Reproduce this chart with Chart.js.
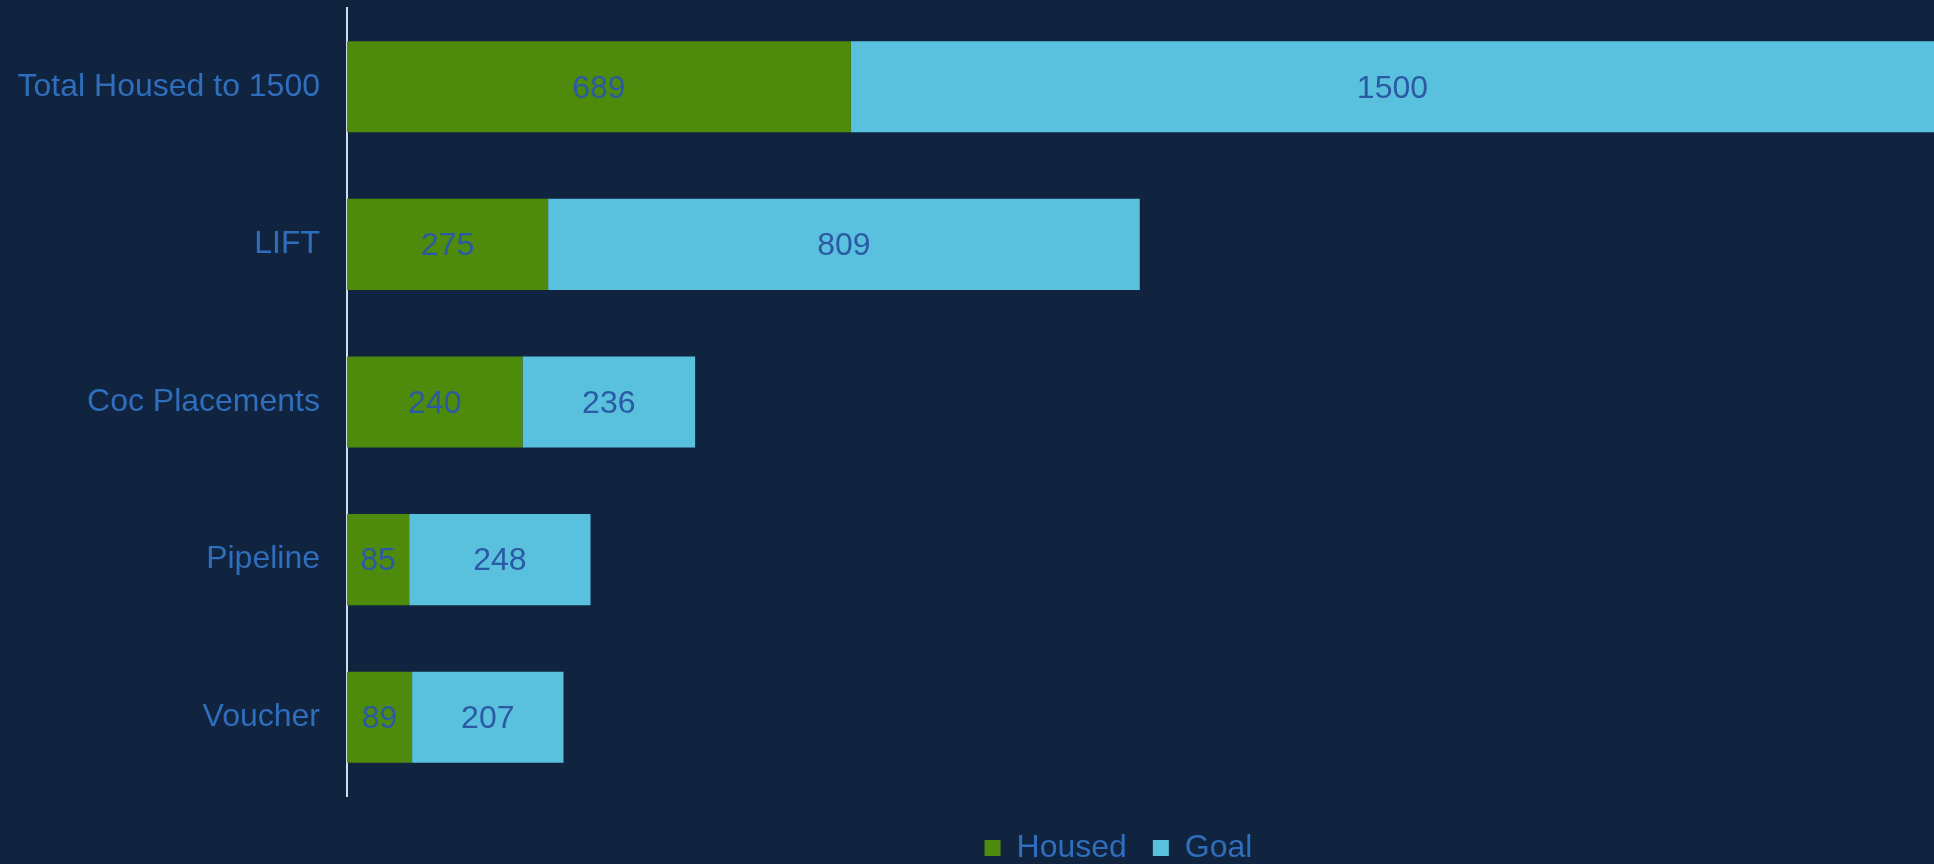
<!DOCTYPE html>
<html>
<head>
<meta charset="utf-8">
<script src="https://cdn.jsdelivr.net/npm/chart.js@4/dist/chart.umd.min.js"></script>
<style>
  html, body { margin: 0; padding: 0; background: #10243f; }
  #wrap { width: 1934px; height: 864px; }
</style>
</head>
<body>
<div id="wrap"><canvas id="grafico" width="1934" height="864"></canvas></div>
<script>
var categorias = ["Total Housed to 1500", "LIFT", "Coc Placements", "Pipeline", "Voucher"];
var housed = [689, 275, 240, 85, 89];
var goal = [1500, 809, 236, 248, 207];

var corTexto = "#2f6dbd";
var corValor = "#2b5aa4";
var fonte = "'Liberation Sans', Arial, sans-serif";

// escreve o valor no meio de cada segmento da barra
var rotulosBarras = {
  id: "rotulosBarras",
  afterDatasetsDraw: function (chart) {
    var ctx = chart.ctx;
    var area = chart.chartArea;
    ctx.save();
    ctx.font = "32px " + fonte;
    ctx.fillStyle = corValor;
    ctx.textAlign = "center";
    ctx.textBaseline = "middle";
    chart.data.datasets.forEach(function (ds, i) {
      chart.getDatasetMeta(i).data.forEach(function (bar, j) {
        var ini = Math.max(bar.base, area.left);
        var fim = Math.min(bar.x, area.right);
        ctx.fillText(String(ds.data[j]), (ini + fim) / 2, bar.y + 2);
      });
    });
    ctx.restore();
  }
};

// empurra a legenda para baixo e um pouco para a esquerda, como no original
var ajusteLegenda = {
  id: "ajusteLegenda",
  afterLayout: function (chart) {
    var leg = chart.legend;
    var alt = leg.bottom - leg.top;
    var dy = 840 - (leg.top + alt / 2);
    leg.top += dy;
    leg.bottom += dy;
    leg.left -= 22;
    leg.right -= 22;
  }
};

const ctx = document.getElementById("grafico").getContext("2d");

const grafico = new Chart(ctx, {
  type: "bar",
  data: {
    labels: categorias,
    datasets: [
      {
        label: "Housed",
        backgroundColor: "#4e8a0c",
        borderWidth: 0,
        data: housed,
      },
      {
        label: "Goal",
        backgroundColor: "#59c1dd",
        borderWidth: 0,
        data: goal,
      },
    ],
  },
  options: {
    indexAxis: "y",
    responsive: false,
    animation: false,
    layout: { padding: { top: 8, right: 0, left: 0, bottom: 0 } },
    datasets: {
      bar: { barPercentage: 0.578, categoryPercentage: 1 },
    },
    scales: {
      x: {
        stacked: true,
        display: false,
        min: 0,
        max: 2170,
      },
      y: {
        stacked: true,
        afterFit: function (escala) {
          escala.width = 347;
          escala.paddingTop = 0;
          escala.paddingBottom = 16;
        },
        grid: { display: false, drawTicks: false },
        border: { display: true, color: "#d4dceb", width: 2 },
        ticks: {
          color: corTexto,
          padding: 27,
          font: { family: fonte, size: 32 },
        },
      },
    },
    plugins: {
      tooltip: { enabled: false },
      legend: {
        position: "bottom",
        fullSize: false,
        labels: {
          color: corTexto,
          boxWidth: 16,
          boxHeight: 16,
          padding: 26,
          font: { family: fonte, size: 32 },
        },
      },
    },
  },
  plugins: [rotulosBarras, ajusteLegenda],
});
</script>
</body>
</html>
